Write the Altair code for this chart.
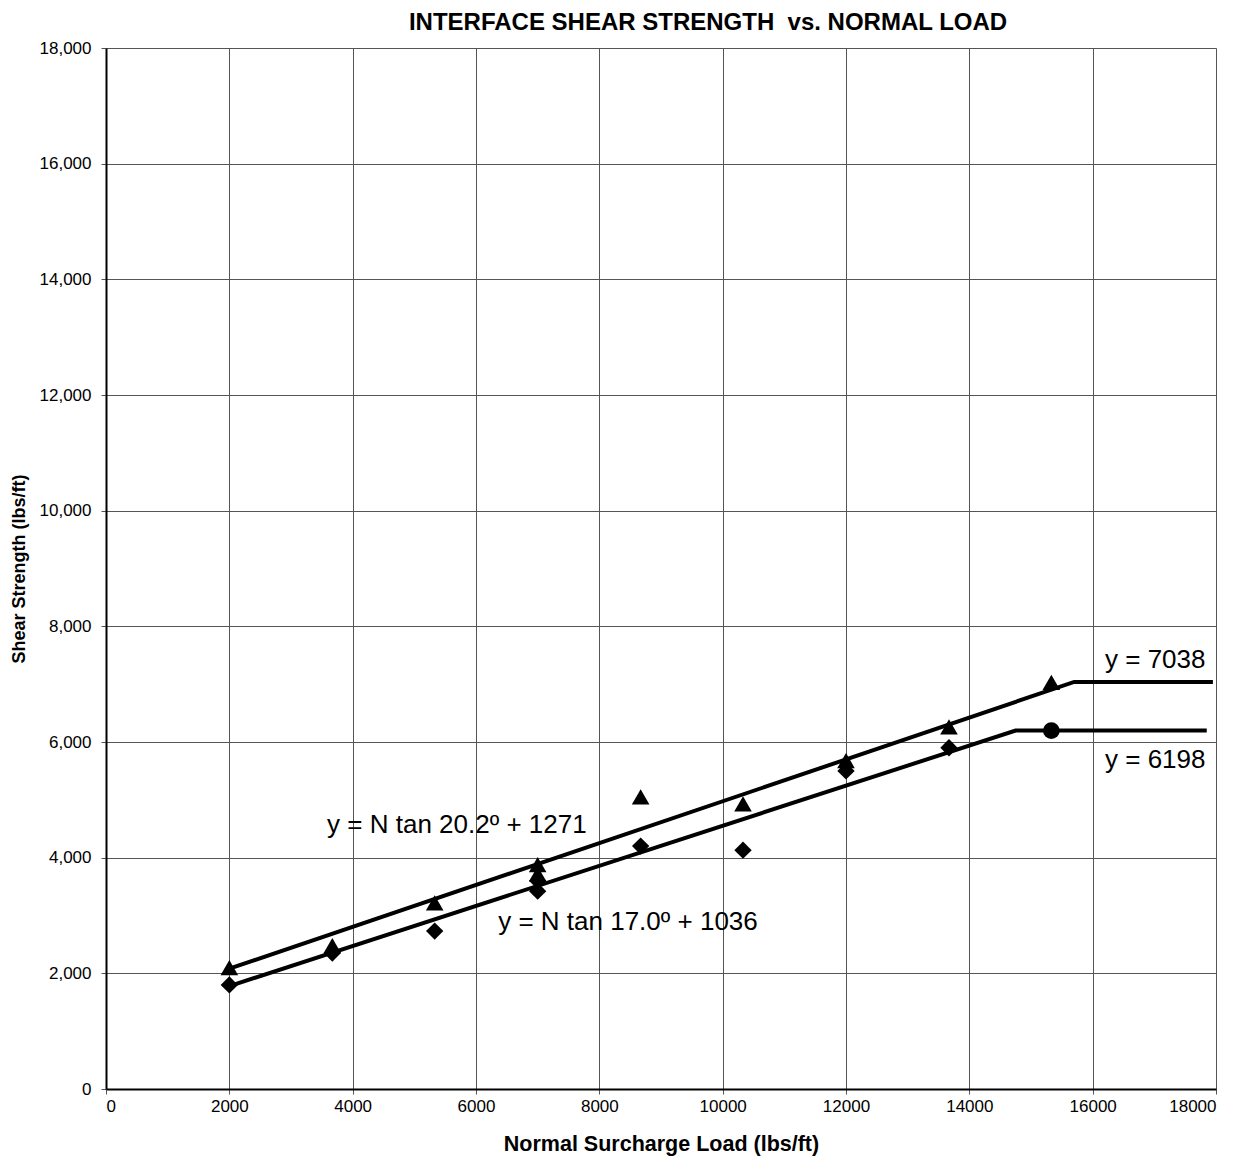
import altair as alt
import pandas as pd

# Data
tri_x = [2000, 3670, 5330, 7000, 7000, 8670, 10330, 12000, 13670, 15330]
tri_y = [2100, 2480, 3220, 3880, 3720, 5050, 4930, 5680, 6260, 7030]
dia_x = [2000, 3670, 5330, 7000, 7000, 8670, 10330, 12000, 13670]
dia_y = [1800, 2350, 2730, 3600, 3420, 4200, 4130, 5500, 5900]
circ_x = [15330]
circ_y = [6198]

upper_x = [2000, 15700, 17950]
upper_y = [2080, 7038, 7038]
lower_x = [2000, 14750, 17850]
lower_y = [1780, 6198, 6198]

lbl_text = ["y = N tan 20.2º + 1271", "y = N tan 17.0º + 1036", "y = 7038", "y = 6198"]
lbl_x = [3585, 6360, 16200, 16200]
lbl_y = [4560, 2890, 7410, 5690]

FONT = "Liberation Sans"

xs = alt.Scale(domain=[0, 18000], nice=False)
ys = alt.Scale(domain=[0, 18000], nice=False)

tri = pd.DataFrame({"x": tri_x, "y": tri_y})
dia = pd.DataFrame({"x": dia_x, "y": dia_y})
circ = pd.DataFrame({"x": circ_x, "y": circ_y})
up = pd.DataFrame({"x": upper_x, "y": upper_y})
lo = pd.DataFrame({"x": lower_x, "y": lower_y})
lbl = pd.DataFrame({"t": lbl_text, "x": lbl_x, "y": lbl_y})

xaxis = alt.Axis(values=list(range(0, 18001, 2000)), format="d", title="Normal Surcharge Load (lbs/ft)",
                 grid=True, gridColor="#555555", gridWidth=1, domainColor="black", domainWidth=2,
                 tickColor="#555555", tickSize=5, labelFontSize=17, labelFont=FONT, labelColor="black",
                 titleFont=FONT, titleFontSize=21.5, titleFontWeight="bold", titleColor="black",
                 labelPadding=4, titlePadding=19)
yaxis = alt.Axis(values=list(range(0, 18001, 2000)), format=",d", title="Shear Strength (lbs/ft)",
                 grid=True, gridColor="#555555", gridWidth=1, domainColor="black", domainWidth=2,
                 tickColor="#555555", tickSize=5, labelFontSize=17, labelFont=FONT, labelColor="black",
                 titleFont=FONT, titleFontSize=18, titleFontWeight="bold", titleColor="black",
                 labelPadding=10, titlePadding=11)

base_x = alt.X("x:Q", scale=xs, axis=xaxis)
base_y = alt.Y("y:Q", scale=ys, axis=yaxis)

lines_up = alt.Chart(up).mark_line(color="black", strokeWidth=4).encode(x=base_x, y=base_y)
lines_lo = alt.Chart(lo).mark_line(color="black", strokeWidth=4).encode(x=base_x, y=base_y)
tri_m = alt.Chart(tri).mark_point(shape="triangle-up", filled=True, color="black", size=310, opacity=1).encode(x=base_x, y=base_y)
dia_m = alt.Chart(dia).mark_point(shape="diamond", filled=True, color="black", size=300, opacity=1).encode(x=base_x, y=base_y)
circ_m = alt.Chart(circ).mark_point(shape="circle", filled=True, color="black", size=280, opacity=1).encode(x=base_x, y=base_y)
txt = alt.Chart(lbl).mark_text(align="left", baseline="middle", fontSize=26, font=FONT, color="black").encode(
    x=base_x, y=base_y, text="t:N")

chart = alt.layer(lines_up, lines_lo, tri_m, dia_m, circ_m, txt).properties(
    width=1110, height=1041,
    title=alt.TitleParams("INTERFACE SHEAR STRENGTH\u00a0\u00a0vs. NORMAL LOAD", font=FONT, fontSize=24,
                          fontWeight="bold", color="black", offset=4, anchor="middle", dx=47),
    autosize=alt.AutoSizeParams(type="none"),
    padding={"left": 98, "top": 40, "right": 20, "bottom": 80},
).configure_view(stroke="black", strokeWidth=1).configure(background="white")

chart.save("out.html", embed_options={"renderer": "svg", "actions": False})
